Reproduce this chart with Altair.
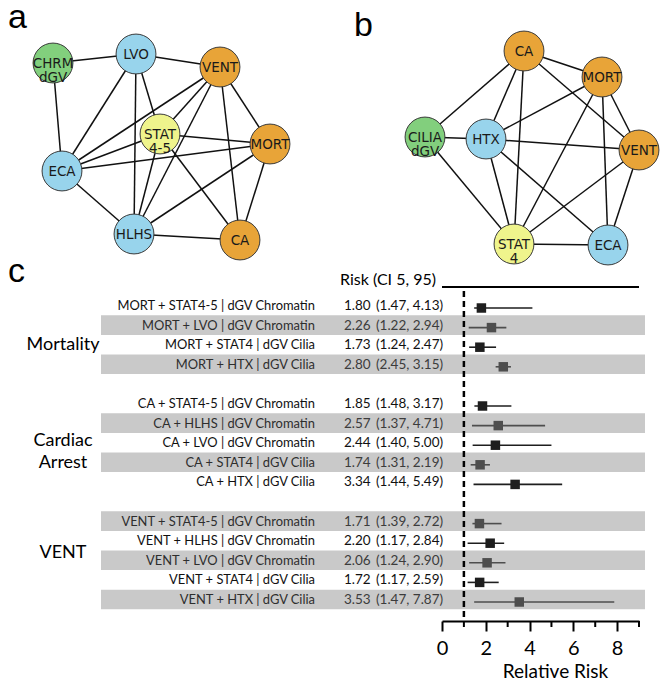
import altair as alt
import pandas as pd

# ---------------- Panel a : network (dGV chromatin) ----------------
a_ids = ["CHRM", "LVO", "VENT", "STAT", "MORT", "ECA", "HLHS", "CA"]
a_text = ["CHRM\ndGV", "LVO", "VENT", "STAT\n4-5", "MORT", "ECA", "HLHS", "CA"]
a_kind = ["dgv", "lesion", "outcome", "stat", "outcome", "lesion", "lesion", "outcome"]
a_x = [45, 128, 212, 152, 262, 54, 126, 232]
a_y = [55, 46, 59, 126, 136, 163, 226, 232]
a_edges = [("CHRM", "LVO"), ("CHRM", "ECA"), ("LVO", "VENT"), ("LVO", "ECA"),
           ("LVO", "HLHS"), ("LVO", "STAT"), ("VENT", "ECA"), ("VENT", "STAT"),
           ("VENT", "HLHS"), ("VENT", "CA"), ("VENT", "MORT"), ("STAT", "MORT"),
           ("STAT", "ECA"), ("STAT", "HLHS"), ("STAT", "CA"), ("ECA", "MORT"),
           ("ECA", "HLHS"), ("HLHS", "MORT"), ("HLHS", "CA"), ("MORT", "CA")]

# ---------------- Panel b : network (dGV cilia) ----------------
b_ids = ["CA", "MORT", "CILIA", "HTX", "VENT", "STAT", "ECA"]
b_text = ["CA", "MORT", "CILIA\ndGV", "HTX", "VENT", "STAT\n4", "ECA"]
b_kind = ["outcome", "outcome", "dgv", "lesion", "outcome", "stat", "lesion"]
b_x = [189, 267, 90, 151, 304, 179, 273]
b_y = [43, 69, 129, 131, 142, 236, 237]
b_edges = [("CA", "MORT"), ("CA", "CILIA"), ("CA", "HTX"), ("CA", "STAT"),
           ("CA", "VENT"), ("MORT", "HTX"), ("MORT", "VENT"), ("MORT", "STAT"),
           ("MORT", "ECA"), ("CILIA", "HTX"), ("CILIA", "STAT"), ("HTX", "VENT"),
           ("HTX", "STAT"), ("HTX", "ECA"), ("VENT", "STAT"), ("VENT", "ECA"),
           ("STAT", "ECA")]

kind_domain = ["dgv", "lesion", "outcome", "stat"]
kind_colors = ["#82cf7d", "#98d4ec", "#e8a438", "#eff48c"]

# ---------------- Panel c : forest plot ----------------
groups = ["Mortality", "Cardiac\nArrest", "VENT"]
group_sizes = [4, 5, 5]
group_label_row = [1.9, 6.8, 12.5]
labels = [
    "MORT + STAT4-5 | dGV Chromatin", "MORT + LVO | dGV Chromatin",
    "MORT + STAT4 | dGV Cilia", "MORT + HTX | dGV Cilia",
    "CA + STAT4-5 | dGV Chromatin", "CA + HLHS | dGV Chromatin",
    "CA + LVO | dGV Chromatin", "CA + STAT4 | dGV Cilia", "CA + HTX | dGV Cilia",
    "VENT + STAT4-5 | dGV Chromatin", "VENT + HLHS | dGV Chromatin",
    "VENT + LVO | dGV Chromatin", "VENT + STAT4 | dGV Cilia", "VENT + HTX | dGV Cilia",
]
est = [1.80, 2.26, 1.73, 2.80, 1.85, 2.57, 2.44, 1.74, 3.34, 1.71, 2.20, 2.06, 1.72, 3.53]
lo = [1.47, 1.22, 1.24, 2.45, 1.48, 1.37, 1.40, 1.31, 1.44, 1.39, 1.17, 1.24, 1.17, 1.47]
hi = [4.13, 2.94, 2.47, 3.15, 3.17, 4.71, 5.00, 2.19, 5.49, 2.72, 2.84, 2.90, 2.59, 7.87]
shaded = [0, 1, 0, 1, 0, 1, 0, 1, 0, 1, 0, 1, 0, 1]
minor_ticks = [1, 3, 5, 7, 9]
major_ticks = [0, 2, 4, 6, 8]

LAT = "Lato"
TOP_H = 255
PW = 327
W = 654

# ---- network tables (panel b laid out one panel-width to the right) ----
def build(ids, text, kind, xs, ys, edges, offset):
    nodes = pd.DataFrame({"id": ids, "label": text, "kind": kind,
                          "x": [v + offset for v in xs], "y": ys})
    pos = {i: (x + offset, y) for i, x, y in zip(ids, xs, ys)}
    e = pd.DataFrame([{"x": pos[s][0], "y": pos[s][1], "xe": pos[t][0], "ye": pos[t][1]}
                      for s, t in edges])
    return nodes, e

na, ea = build(a_ids, a_text, a_kind, a_x, a_y, a_edges, 0)
nb, eb = build(b_ids, b_text, b_kind, b_x, b_y, b_edges, PW)
nodes = pd.concat([na, nb], ignore_index=True)
edges = pd.concat([ea, eb], ignore_index=True)

nxs = alt.Scale(domain=[0, W], range=[0, W])
nys = alt.Scale(domain=[0, TOP_H], range=[0, TOP_H])
NX = alt.X("x:Q", scale=nxs, axis=None)
NY = alt.Y("y:Q", scale=nys, axis=None)

edge_layer = alt.Chart(edges).mark_rule(color="#111111", strokeWidth=1.5).encode(
    x=NX, y=NY, x2="xe:Q", y2="ye:Q")
node_layer = alt.Chart(nodes).mark_circle(size=1590, opacity=1, stroke="#3a3a3a",
                                          strokeWidth=1).encode(
    x=NX, y=NY,
    color=alt.Color("kind:N", scale=alt.Scale(domain=kind_domain, range=kind_colors),
                    legend=None))
ntext_layer = alt.Chart(nodes).mark_text(font="DejaVu Sans", fontSize=13.5, lineBreak="\n",
                                         lineHeight=14, baseline="middle", dy=1,
                                         color="#1a1a1a").encode(x=NX, y=NY, text="label:N")
letters_top = alt.Chart(pd.DataFrame({"t": ["a", "b"], "lx": [0, PW + 19],
                                      "ly": [20, 28]})).mark_text(
    font="Liberation Sans", fontSize=34, align="left", baseline="alphabetic",
    color="black", clip=True).encode(x=alt.X("lx:Q", scale=nxs, axis=None),
                                     y=alt.Y("ly:Q", scale=nys, axis=None), text="t:N")
top = alt.layer(edge_layer, node_layer, ntext_layer, letters_top).properties(
    width=W, height=TOP_H)

# ---- forest table ----
rows = []
r = 0
for n in group_sizes:
    rows.extend(range(r, r + n))
    r += n + 1
df = pd.DataFrame({"row": rows, "label": labels, "est": est, "lo": lo, "hi": hi,
                   "shaded": shaded})
df["est_txt"] = df["est"].map(lambda v: f"{v:.2f}")
df["ci_txt"] = [f"({a:.2f}, {b:.2f})" for a, b in zip(df["lo"], df["hi"])]
df["tcol"] = df["shaded"].map({0: "#111111", 1: "#2e2e2e"})
df["vcol"] = df["shaded"].map({0: "#111111", 1: "#3c3c3c"})
df["mcol"] = df["shaded"].map({0: "#1e1e1e", 1: "#4e4e4e"})
df["b1"] = df["row"] - 0.5
df["b2"] = df["row"] + 0.5

C_H = 358
xsc = alt.Scale(domain=[0, 9], range=[434, 631], nice=False, zero=False)
ysc = alt.Scale(domain=[0, 15], range=[45, 339], nice=False, zero=False)
xaxis = alt.Axis(values=major_ticks, format="d", tickSize=10, tickWidth=2, domainWidth=2,
                 domainColor="black", tickColor="black", labelFont=LAT, labelFontSize=20,
                 labelColor="black", labelPadding=7, title="Relative Risk",
                 titleFont=LAT, titleFontSize=19, titleFontWeight="normal",
                 titleColor="black", titleX=547, titleY=56, titleBaseline="alphabetic",
                 titleAlign="center", grid=False, labelFlush=False)


def X(field):
    return alt.X(field, type="quantitative", scale=xsc, axis=xaxis)


Y = alt.Y("row:Q", scale=ysc, axis=None)
one = pd.DataFrame({"k": [0]})

bands = alt.Chart(df[df["shaded"] == 1]).mark_rect(color="#c9c9c9", yOffset=-2.5,
                                                    y2Offset=-2.5).encode(
    x=alt.value(93), x2=alt.value(637),
    y=alt.Y("b1:Q", scale=ysc, axis=None), y2="b2:Q")
dashed = alt.Chart(one).mark_rule(color="black", strokeWidth=2.5, strokeDash=[6, 4]).encode(
    x=alt.datum(1), y=alt.value(28), y2=alt.value(C_H))
header_line = alt.Chart(one).mark_rule(color="black", strokeWidth=2).encode(
    x=alt.datum(0), x2=alt.datum(9), y=alt.value(24))
header_txt = alt.Chart(pd.DataFrame({"t": ["Risk (CI 5, 95)"]})).mark_text(
    font=LAT, fontSize=16, align="right", baseline="middle", color="black").encode(
    x=alt.value(428), y=alt.value(17), text="t:N")
minor = alt.Chart(pd.DataFrame({"v": minor_ticks})).mark_rule(color="black",
                                                              strokeWidth=2).encode(
    x=X("v"), y=alt.value(C_H), y2=alt.value(C_H + 6))
ci = alt.Chart(df).mark_rule(strokeWidth=1.6).encode(
    x=X("lo"), x2="hi", y=Y, color=alt.Color("mcol:N", scale=None))
marks = alt.Chart(df).mark_square(size=90, opacity=1).encode(
    x=X("est"), y=Y, color=alt.Color("mcol:N", scale=None))
lab = alt.Chart(df).mark_text(font=LAT, fontSize=12.9, align="right", baseline="middle",
                              dy=-2).encode(
    x=alt.value(307), y=Y, text="label:N", color=alt.Color("tcol:N", scale=None))
est_t = alt.Chart(df).mark_text(font=LAT, fontSize=13.5, align="left", baseline="middle",
                                dy=-2).encode(
    x=alt.value(336), y=Y, text="est_txt:N", color=alt.Color("vcol:N", scale=None))
ci_t = alt.Chart(df).mark_text(font=LAT, fontSize=13.5, align="left", baseline="middle",
                               dy=-2).encode(
    x=alt.value(368), y=Y, text="ci_txt:N", color=alt.Color("vcol:N", scale=None))
glab = alt.Chart(pd.DataFrame({"g": groups, "r": group_label_row})).mark_text(
    font=LAT, fontSize=18, align="center", baseline="middle", lineBreak="\n",
    lineHeight=22, color="black").encode(
    x=alt.value(55), y=alt.Y("r:Q", scale=ysc, axis=None), text="g:N")
c_letter = alt.Chart(pd.DataFrame({"t": ["c"]})).mark_text(
    font="Liberation Sans", fontSize=34, align="left", baseline="alphabetic",
    color="black").encode(x=alt.value(0), y=alt.value(19), text="t:N")

pc = alt.layer(bands, dashed, header_line, header_txt, minor, ci, marks, lab, est_t, ci_t,
               glab, c_letter).properties(width=W, height=C_H)

chart = alt.vconcat(top, pc, spacing=0, bounds="flush").properties(
    padding=0).configure_view(stroke=None)

chart.save("out.html", embed_options={"renderer": "svg", "actions": False})
